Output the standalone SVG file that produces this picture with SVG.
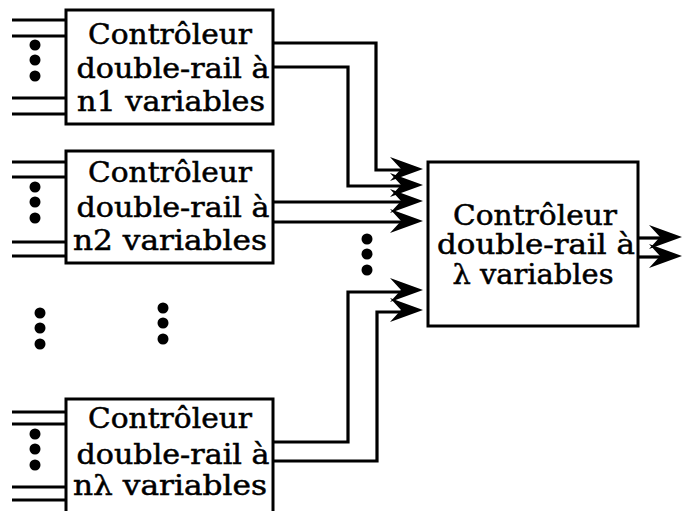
<svg xmlns="http://www.w3.org/2000/svg" xmlns:xlink="http://www.w3.org/1999/xlink" width="683" height="511" viewBox="0 0 683 511">
<style>
.box{fill:#fff;stroke:#000;stroke-width:3}
.ln{fill:none;stroke:#000;stroke-width:3.2}
.t{font-family:"DejaVu Serif","Liberation Serif",serif;font-size:27px;fill:#000;stroke:#000;stroke-width:0.5;text-anchor:middle}
.dot{fill:#000}
</style>
<defs>
<path id="ah" d="M0,0 L-33,-12 L-22,0 L-33,12 Z" fill="#000"/>
<g id="dots3"><circle cx="0" cy="0" r="5.5"/><circle cx="0" cy="15" r="5.5"/><circle cx="0" cy="31" r="5.5"/></g>
</defs>
<rect width="683" height="511" fill="#fff"/>

<g id="inputs" class="ln">
<path d="M12 20H66M12 36H66M12 98H66M12 114H66"/>
<path d="M12 162H66M12 177H66M12 242H66M12 256H66"/>
<path d="M12 412H66M12 424H66M12 487H66M12 500H66"/>
</g>

<g id="connectors">
<path class="ln" d="M273 43H376V170H405"/>
<path class="ln" d="M273 67H348V186H405"/>
<path class="ln" d="M273 202H405"/>
<path class="ln" d="M273 222H405"/>
<path class="ln" d="M273 442H348V292H405"/>
<path class="ln" d="M273 461H377V312H405"/>
<path class="ln" d="M638 238H665"/>
<path class="ln" d="M638 257H665"/>
<use xlink:href="#ah" transform="translate(423,169)"/>
<use xlink:href="#ah" transform="translate(423,185)"/>
<use xlink:href="#ah" transform="translate(423,201)"/>
<use xlink:href="#ah" transform="translate(423,221)"/>
<use xlink:href="#ah" transform="translate(423,290)"/>
<use xlink:href="#ah" transform="translate(423,310)"/>
<use xlink:href="#ah" transform="translate(682,237)"/>
<use xlink:href="#ah" transform="translate(682,256)"/>
</g>

<g id="ellipses" class="dot">
<use xlink:href="#dots3" transform="translate(35,45)"/>
<use xlink:href="#dots3" transform="translate(35,187)"/>
<use xlink:href="#dots3" transform="translate(35,434)"/>
<use xlink:href="#dots3" transform="translate(40,313)"/>
<use xlink:href="#dots3" transform="translate(163,308)"/>
<use xlink:href="#dots3" transform="translate(367,239)"/>
</g>

<g id="ctrl-n1">
<rect class="box" x="66" y="10" width="207" height="114"/>
<text class="t" x="170" y="44" textLength="164" lengthAdjust="spacingAndGlyphs">Contrôleur</text>
<text class="t" x="173" y="78" textLength="193" lengthAdjust="spacingAndGlyphs">double-rail à</text>
<text class="t" x="171" y="111" textLength="188" lengthAdjust="spacingAndGlyphs">n1 variables</text>
</g>

<g id="ctrl-n2">
<rect class="box" x="66" y="151" width="207" height="112"/>
<text class="t" x="170" y="182" textLength="164" lengthAdjust="spacingAndGlyphs">Contrôleur</text>
<text class="t" x="173" y="217" textLength="193" lengthAdjust="spacingAndGlyphs">double-rail à</text>
<text class="t" x="170" y="250" textLength="194" lengthAdjust="spacingAndGlyphs">n2 variables</text>
</g>

<g id="ctrl-nlambda">
<rect class="box" x="66" y="399" width="207" height="120"/>
<text class="t" x="170" y="428" textLength="164" lengthAdjust="spacingAndGlyphs">Contrôleur</text>
<text class="t" x="173" y="464" textLength="193" lengthAdjust="spacingAndGlyphs">double-rail à</text>
<text class="t" x="170" y="495" textLength="194" lengthAdjust="spacingAndGlyphs">nλ variables</text>
</g>

<g id="ctrl-lambda">
<rect class="box" x="428" y="162" width="210" height="164"/>
<text class="t" x="535" y="225" textLength="164" lengthAdjust="spacingAndGlyphs">Contrôleur</text>
<text class="t" x="536" y="254" textLength="198" lengthAdjust="spacingAndGlyphs">double-rail à</text>
<text class="t" x="533" y="284" textLength="161" lengthAdjust="spacingAndGlyphs">λ variables</text>
</g>
</svg>
